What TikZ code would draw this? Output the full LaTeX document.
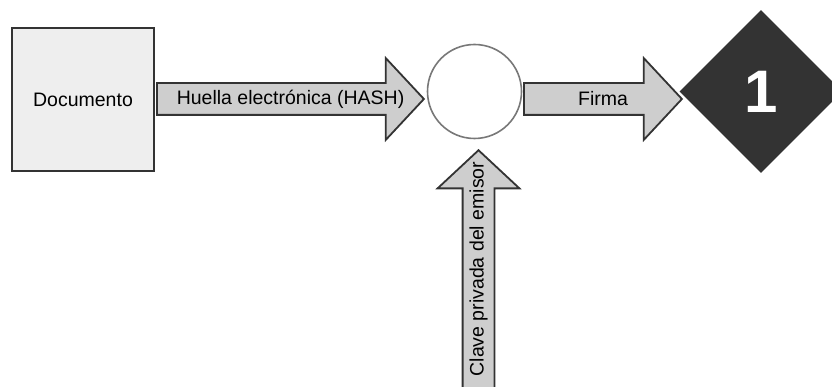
\documentclass[tikz,border=0pt]{standalone}
\usepackage{fontspec}
\setmainfont{Liberation Sans}
\usetikzlibrary{shapes.arrows,shapes.geometric,calc}
\begin{document}
\begin{tikzpicture}[x=1pt, y=-1pt]
            \definecolor{linecolor}{RGB}{51, 51, 51}
            \definecolor{arrowcolor}{RGB}{206, 206, 206}
            \definecolor{doccolor}{RGB}{238, 238, 238}
            \def\arrowthick{1.8pt}
            \tikzset{flecha/.style={single arrow, draw=linecolor, fill=arrowcolor, line width=\arrowthick,
                    single arrow head extend=25pt, single arrow tip angle=94, inner ysep=15pt, inner xsep=0pt},
                    etiqueta/.style={inner sep=0pt, font=\fontsize{19.5}{23}\selectfont}}
            \useasboundingbox (0, 0) rectangle (832, 387);
            \clip (0, 0) rectangle (832, 387);
            \node[draw=linecolor, fill=doccolor, line width=\arrowthick, minimum width=142pt, minimum height=143pt,
                  font=\fontsize{19.5}{23}\selectfont] (doc) at (83, 99.5) {Documento};
            \node[draw={rgb,255:red,120;green,120;blue,120}, fill=white, shape=circle, line width=1.6pt,
                  minimum size=94pt, inner sep=0pt] (sign) at (474.5, 91.5) {};
            \node[diamond, fill=linecolor, minimum width=163pt, minimum height=163pt, inner sep=0pt,
                  text=white, font=\fontsize{60}{60}\selectfont\bfseries] (uno) at (761, 91.5) {1};
            \node[flecha, minimum height=267pt, anchor=tail] (hash) at (156, 99) {};
            \node[flecha, minimum height=158pt, anchor=tail] (firma) at (523, 99) {};
            \node[flecha, rotate=90, minimum height=238pt, anchor=tip] (clave) at (478.5, 149) {};
            \node[etiqueta] (hashtext) at ($(hash.tail)!0.5!(hash.tip)$) {Huella electrónica (HASH)};
            \node[etiqueta] (firmatext) at ($(firma.tail)!0.5!(firma.tip)$) {Firma};
            \node[etiqueta, rotate=90] (clavetext) at ($(clave.tail)!0.5!(clave.tip)$) {Clave privada del emisor};
        \end{tikzpicture}
\end{document}
